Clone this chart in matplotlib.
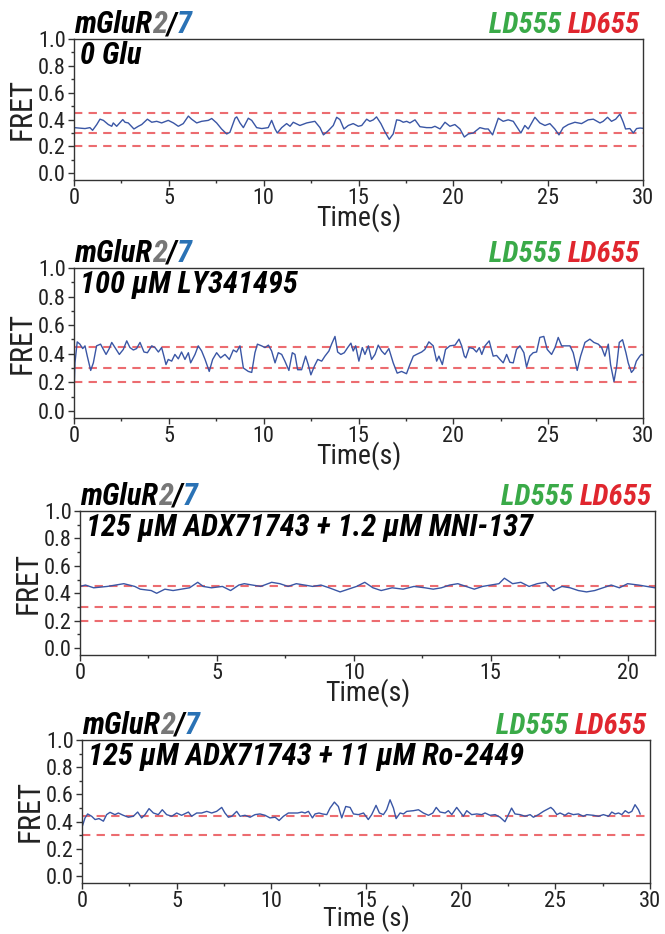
import matplotlib
matplotlib.use("Agg")
import matplotlib.pyplot as plt
from matplotlib import font_manager
from matplotlib.ticker import MultipleLocator

# ---------------- data ----------------
t1 = [0.0, 0.58, 0.84, 0.98, 1.2, 1.37, 1.55, 1.81, 1.99, 2.07, 2.25, 2.57, 2.69, 2.86, 3.16, 3.39, 3.57, 3.87, 4.1, 4.36,
      4.62, 4.97, 5.24, 5.5, 5.76, 6.03, 6.2, 6.47, 6.73, 7.08, 7.26, 7.52, 7.78, 8.05, 8.22, 8.49, 8.58, 8.75, 8.93, 9.19,
      9.37, 9.63, 9.9, 10.24, 10.42, 10.6, 10.72, 10.95, 11.21, 11.39, 11.56, 11.91, 12.27, 12.7, 12.97, 13.15, 13.4, 13.67, 13.85, 14.02,
      14.23, 14.46, 14.72, 14.99, 15.17, 15.43, 15.6, 15.78, 15.95, 16.18, 16.39, 16.62, 16.83, 17.01, 17.18, 17.36, 17.54, 17.71, 17.98, 18.24,
      18.59, 18.86, 19.03, 19.3, 19.56, 19.82, 20.08, 20.35, 20.58, 20.79, 21.05, 21.4, 21.67, 21.84, 22.07, 22.37, 22.63, 22.89, 23.16, 23.33,
      23.56, 23.77, 23.95, 24.3, 24.56, 24.83, 25.09, 25.35, 25.57, 25.79, 26.06, 26.41, 26.76, 27.11, 27.38, 27.73, 27.9, 28.13, 28.34, 28.56,
      28.78, 28.96, 29.08, 29.31, 29.49, 29.66, 29.84, 30.0]
fret1 = [0.34, 0.333, 0.34, 0.32, 0.363, 0.403, 0.394, 0.363, 0.35, 0.375, 0.35, 0.40, 0.38, 0.375, 0.33, 0.35, 0.363, 0.403, 0.38, 0.387,
         0.375, 0.394, 0.375, 0.35, 0.37, 0.426, 0.403, 0.375, 0.387, 0.394, 0.408, 0.375, 0.33, 0.293, 0.305, 0.41, 0.42, 0.375, 0.34, 0.41,
         0.394, 0.34, 0.333, 0.34, 0.394, 0.33, 0.30, 0.34, 0.37, 0.35, 0.38, 0.356, 0.375, 0.387, 0.34, 0.286, 0.316, 0.356, 0.417, 0.40,
         0.33, 0.356, 0.37, 0.35, 0.356, 0.403, 0.387, 0.398, 0.42, 0.37, 0.31, 0.253, 0.293, 0.398, 0.394, 0.38, 0.387, 0.375, 0.398, 0.347,
         0.34, 0.34, 0.35, 0.33, 0.38, 0.35, 0.363, 0.33, 0.27, 0.293, 0.30, 0.34, 0.33, 0.33, 0.286, 0.41, 0.387, 0.398, 0.387, 0.35,
         0.30, 0.356, 0.33, 0.417, 0.375, 0.356, 0.37, 0.33, 0.286, 0.34, 0.363, 0.38, 0.37, 0.398, 0.403, 0.375, 0.387, 0.417, 0.387, 0.403,
         0.44, 0.38, 0.33, 0.333, 0.30, 0.333, 0.337, 0.335]

t2 = [0.0, 0.05, 0.17, 0.31, 0.46, 0.58, 0.70, 0.88, 1.02, 1.19, 1.4, 1.69, 1.86, 1.99, 2.16, 2.39, 2.6, 2.78, 2.95, 3.13,
      3.3, 3.48, 3.69, 3.87, 4.1, 4.27, 4.45, 4.62, 4.74, 4.85, 4.97, 5.15, 5.32, 5.5, 5.67, 5.85, 6.03, 6.15, 6.38, 6.55,
      6.73, 6.91, 7.13, 7.31, 7.52, 7.73, 7.96, 8.19, 8.4, 8.57, 8.75, 8.93, 9.19, 9.37, 9.54, 9.67, 9.89, 10.07, 10.25, 10.42,
      10.6, 10.77, 10.95, 11.12, 11.33, 11.51, 11.65, 11.79, 12.0, 12.21, 12.35, 12.49, 12.67, 12.85, 13.06, 13.23, 13.44, 13.58, 13.76, 13.9,
      14.07, 14.25, 14.43, 14.6, 14.72, 14.85, 15.02, 15.2, 15.34, 15.52, 15.69, 15.87, 16.04, 16.22, 16.39, 16.6, 16.83, 17.04, 17.27, 17.53,
      17.71, 17.89, 18.06, 18.33, 18.5, 18.71, 18.94, 19.12, 19.24, 19.42, 19.59, 19.82, 20.09, 20.3, 20.44, 20.58, 20.66, 20.84, 21.05, 21.22,
      21.37, 21.5, 21.67, 21.89, 22.1, 22.28, 22.46, 22.63, 22.81, 22.98, 23.16, 23.33, 23.51, 23.72, 23.86, 24.03, 24.21, 24.39, 24.56, 24.77,
      24.95, 25.18, 25.36, 25.53, 25.71, 25.93, 26.15, 26.32, 26.53, 26.71, 26.94, 27.2, 27.41, 27.64, 27.82, 27.99, 28.17, 28.29, 28.47, 28.61,
      28.75, 28.92, 29.1, 29.22, 29.39, 29.51, 29.65, 29.83, 29.92, 30.0]
fret2 = [0.12, 0.336, 0.483, 0.467, 0.436, 0.455, 0.383, 0.283, 0.336, 0.455, 0.467, 0.395, 0.436, 0.479, 0.443, 0.395, 0.43, 0.49, 0.443, 0.426,
         0.436, 0.479, 0.412, 0.407, 0.455, 0.443, 0.412, 0.443, 0.383, 0.324, 0.36, 0.348, 0.395, 0.364, 0.412, 0.36, 0.407, 0.336, 0.395, 0.455,
         0.419, 0.36, 0.276, 0.36, 0.407, 0.371, 0.395, 0.36, 0.426, 0.412, 0.455, 0.30, 0.276, 0.269, 0.407, 0.467, 0.455, 0.443, 0.46, 0.419,
         0.336, 0.407, 0.395, 0.348, 0.283, 0.407, 0.395, 0.288, 0.288, 0.383, 0.324, 0.252, 0.312, 0.36, 0.348, 0.383, 0.419, 0.467, 0.521, 0.412,
         0.395, 0.407, 0.443, 0.474, 0.419, 0.455, 0.348, 0.443, 0.395, 0.455, 0.36, 0.395, 0.46, 0.419, 0.395, 0.436, 0.336, 0.264, 0.276, 0.26,
         0.324, 0.383, 0.395, 0.412, 0.43, 0.483, 0.455, 0.348, 0.383, 0.324, 0.43, 0.455, 0.46, 0.502, 0.455, 0.383, 0.371, 0.443, 0.436, 0.412,
         0.443, 0.395, 0.455, 0.49, 0.383, 0.388, 0.36, 0.336, 0.395, 0.34, 0.336, 0.43, 0.455, 0.407, 0.307, 0.383, 0.407, 0.412, 0.514, 0.521,
         0.43, 0.395, 0.443, 0.514, 0.455, 0.455, 0.455, 0.407, 0.283, 0.383, 0.479, 0.502, 0.479, 0.467, 0.443, 0.383, 0.467, 0.324, 0.205, 0.312,
         0.479, 0.498, 0.407, 0.336, 0.269, 0.288, 0.348, 0.383, 0.395, 0.39]

t3 = [0, 0.2, 0.5, 1.0, 1.3, 1.6, 2.0, 2.2, 2.6, 2.8, 3.1, 3.4, 3.7, 4.0, 4.3, 4.5, 4.8, 5.2, 5.5, 5.8,
      6.0, 6.3, 6.6, 7.0, 7.3, 7.6, 7.9, 8.2, 8.5, 8.8, 9.1, 9.5, 9.8, 10.1, 10.4, 10.7, 11.0, 11.4, 11.8, 12.2,
      12.6, 12.9, 13.2, 13.5, 13.8, 14.1, 14.4, 14.7, 15.0, 15.3, 15.5, 15.8, 16.1, 16.4, 16.7, 17.0, 17.3, 17.6, 17.9, 18.2,
      18.5, 18.8, 19.1, 19.4, 19.7, 20.0, 20.4, 20.7, 21.0]
fret3 = [0.45, 0.46, 0.44, 0.45, 0.46, 0.47, 0.45, 0.43, 0.42, 0.40, 0.43, 0.42, 0.43, 0.44, 0.48, 0.45, 0.44, 0.45, 0.42, 0.46,
         0.47, 0.46, 0.45, 0.48, 0.47, 0.45, 0.47, 0.46, 0.45, 0.46, 0.44, 0.41, 0.43, 0.45, 0.48, 0.44, 0.42, 0.44, 0.43, 0.45,
         0.44, 0.43, 0.44, 0.46, 0.47, 0.45, 0.43, 0.45, 0.46, 0.47, 0.51, 0.47, 0.48, 0.45, 0.47, 0.48, 0.42, 0.45, 0.44, 0.42,
         0.41, 0.42, 0.44, 0.46, 0.44, 0.47, 0.46, 0.45, 0.44]

t4 = [0.02, 0.16, 0.30, 0.51, 0.69, 0.90, 1.13, 1.30, 1.48, 1.74, 1.92, 2.18, 2.45, 2.71, 2.94, 3.15, 3.33, 3.54, 3.77, 4.03,
      4.24, 4.47, 4.74, 5.0, 5.26, 5.62, 5.79, 6.06, 6.32, 6.59, 6.85, 7.11, 7.38, 7.55, 7.73, 7.91, 8.17, 8.35, 8.61, 8.88,
      9.14, 9.4, 9.67, 9.93, 10.2, 10.41, 10.64, 10.9, 11.16, 11.39, 11.61, 11.78, 11.96, 12.17, 12.31, 12.52, 12.7, 12.93, 13.1, 13.33,
      13.54, 13.72, 13.93, 14.16, 14.34, 14.6, 14.87, 15.12, 15.3, 15.53, 15.71, 15.92, 16.09, 16.27, 16.45, 16.59, 16.8, 16.98, 17.15, 17.51,
      17.77, 18.03, 18.3, 18.53, 18.71, 18.91, 19.18, 19.35, 19.53, 19.79, 19.97, 20.14, 20.32, 20.58, 20.85, 21.11, 21.29, 21.55, 21.82, 22.08,
      22.34, 22.52, 22.69, 22.87, 23.14, 23.4, 23.67, 23.84, 24.11, 24.37, 24.64, 24.76, 24.9, 25.08, 25.25, 25.51, 25.69, 25.95, 26.22, 26.48,
      26.66, 27.01, 27.28, 27.54, 27.81, 27.98, 28.16, 28.34, 28.51, 28.69, 28.87, 29.04, 29.21, 29.39, 29.48]
fret4 = [0.368, 0.428, 0.457, 0.44, 0.416, 0.423, 0.404, 0.452, 0.469, 0.452, 0.464, 0.447, 0.433, 0.44, 0.471, 0.428, 0.452, 0.496, 0.464, 0.452,
         0.488, 0.452, 0.44, 0.464, 0.447, 0.471, 0.44, 0.464, 0.464, 0.476, 0.464, 0.476, 0.505, 0.464, 0.433, 0.44, 0.476, 0.44, 0.447, 0.433,
         0.452, 0.457, 0.447, 0.428, 0.433, 0.409, 0.44, 0.464, 0.464, 0.464, 0.471, 0.464, 0.476, 0.428, 0.457, 0.464, 0.457, 0.452, 0.50, 0.544,
         0.512, 0.428, 0.512, 0.505, 0.457, 0.452, 0.464, 0.416, 0.452, 0.52, 0.464, 0.452, 0.488, 0.561, 0.50, 0.423, 0.464, 0.457, 0.476, 0.481,
         0.488, 0.464, 0.447, 0.464, 0.505, 0.471, 0.464, 0.481, 0.452, 0.505, 0.471, 0.44, 0.481, 0.452, 0.457, 0.452, 0.464, 0.447, 0.452, 0.433,
         0.40, 0.452, 0.50, 0.457, 0.452, 0.44, 0.452, 0.433, 0.452, 0.476, 0.496, 0.505, 0.488, 0.452, 0.464, 0.447, 0.464, 0.452, 0.457, 0.44,
         0.452, 0.447, 0.44, 0.452, 0.44, 0.471, 0.457, 0.464, 0.452, 0.481, 0.464, 0.476, 0.525, 0.488, 0.457]

conditions = ["0 Glu", "100 \u00b5M LY341495",
              "125 \u00b5M ADX71743 + 1.2 \u00b5M MNI-137",
              "125 \u00b5M ADX71743 + 11 \u00b5M Ro-2449"]
ref_levels = [[0.45, 0.30, 0.20], [0.445, 0.30, 0.20], [0.45, 0.30, 0.20], [0.44, 0.30]]
xmax = [30, 30, 21, 30]
xlabels = ["Time(s)", "Time(s)", "Time(s)", "Time (s)"]
yticks = [0.0, 0.2, 0.4, 0.6, 0.8, 1.0]

times = [t1, t2, t3, t4]
frets = [fret1, fret2, fret3, fret4]

# ---------------- fonts ----------------
fl = font_manager.fontManager.ttflist
names = {f.name for f in fl}
cands = ['Liberation Sans Narrow', 'Roboto Condensed', 'PT Sans Narrow', 'Archivo Narrow',
         'Barlow Semi Condensed', 'Asap Condensed', 'Liberation Sans']


def has_style(fam, bold, italic):
    for f in fl:
        if f.name != fam:
            continue
        w = f.weight if isinstance(f.weight, int) else 700 if f.weight == 'bold' else 400
        if (f.style == 'italic' or f.style == 'oblique') == italic and ((w >= 700) == bold):
            if not bold or w <= 800:
                return True
    return False


REG = next((c for c in cands if c in names and has_style(c, False, False)), 'Liberation Sans')
BI = next((c for c in cands if c in names and has_style(c, True, True)), 'Liberation Sans')
plt.rcParams['font.family'] = [REG, 'DejaVu Sans']

TRACE = "#3a56a5"
DASH = "#e8474c"
AXC = "#333333"

fig = plt.figure(figsize=(6.65, 9.34), dpi=100)

# axes rectangles in pixels: left, right, top, bottom
rects = [(74, 643, 39, 180), (74, 643, 268, 418), (80, 655, 511, 655), (82, 650, 740, 883)]
label_gap = [23, 23, 23, 22]
label_size = [20, 20, 20, 19]
W, H = 665, 934

for i in range(4):
    l, r, tp, b = rects[i]
    ax = fig.add_axes([l / W, 1 - b / H, (r - l) / W, (b - tp) / H])
    for y in ref_levels[i]:
        ax.axhline(y, color=DASH, lw=1.5, ls=(0, (4, 3)), alpha=0.8, zorder=1)
    ax.plot(times[i], frets[i], color=TRACE, lw=1.0, zorder=2)
    ax.set_xlim(0, xmax[i])
    ax.set_ylim(-0.05, 1.0)
    ax.set_yticks(yticks)
    ax.set_yticklabels([f"{v:.1f}" for v in yticks])
    ax.xaxis.set_major_locator(MultipleLocator(5))
    ax.xaxis.set_minor_locator(MultipleLocator(2.5))
    ax.yaxis.set_minor_locator(MultipleLocator(0.1))
    ax.tick_params(which='major', direction='out', length=4, width=1, colors=AXC,
                   labelsize=16, labelcolor="#222222", pad=2)
    ax.tick_params(which='minor', direction='out', length=2.5, width=1, colors=AXC)
    for s in ax.spines.values():
        s.set_color(AXC)
        s.set_linewidth(1.0)
    ax.set_ylabel("FRET", fontsize=22, labelpad=1, color="#222222")
    ax.set_xlabel(xlabels[i], fontsize=label_size[i], color="#222222", va='top')
    ax.xaxis.set_label_coords(0.5, -label_gap[i] / (b - tp))

    # title pieces
    tkw = dict(fontsize=22, fontweight='bold', fontstyle='italic', family=[BI, 'DejaVu Sans'])
    a1 = ax.text(0.0, 1.0, "mGluR", transform=ax.transAxes, ha='left', va='bottom', color='black', **tkw)
    a2 = ax.annotate("2", xycoords=a1, xy=(1, 0), va='bottom', color='#777777', **tkw)
    a3 = ax.annotate("/", xycoords=a2, xy=(1, 0), va='bottom', color='black', **tkw)
    ax.annotate("7", xycoords=a3, xy=(1, 0), va='bottom', color='#2a72b5', **tkw)

    lkw = dict(fontsize=21, fontweight='bold', fontstyle='italic', family=[BI, 'DejaVu Sans'])
    b2 = ax.text(0.995, 1.0, "LD655", transform=ax.transAxes, ha='right', va='bottom', color='#e0262e', **lkw)
    ax.annotate("LD555 ", xycoords=b2, xy=(0, 0), ha='right', va='bottom', color='#3aaa48', **lkw)

    ax.text(0.01, 0.985, conditions[i], transform=ax.transAxes, ha='left', va='top',
            fontsize=22, fontweight='bold', fontstyle='italic', color='black', family=[BI, 'DejaVu Sans'])

fig.savefig("out.png", dpi=100)
